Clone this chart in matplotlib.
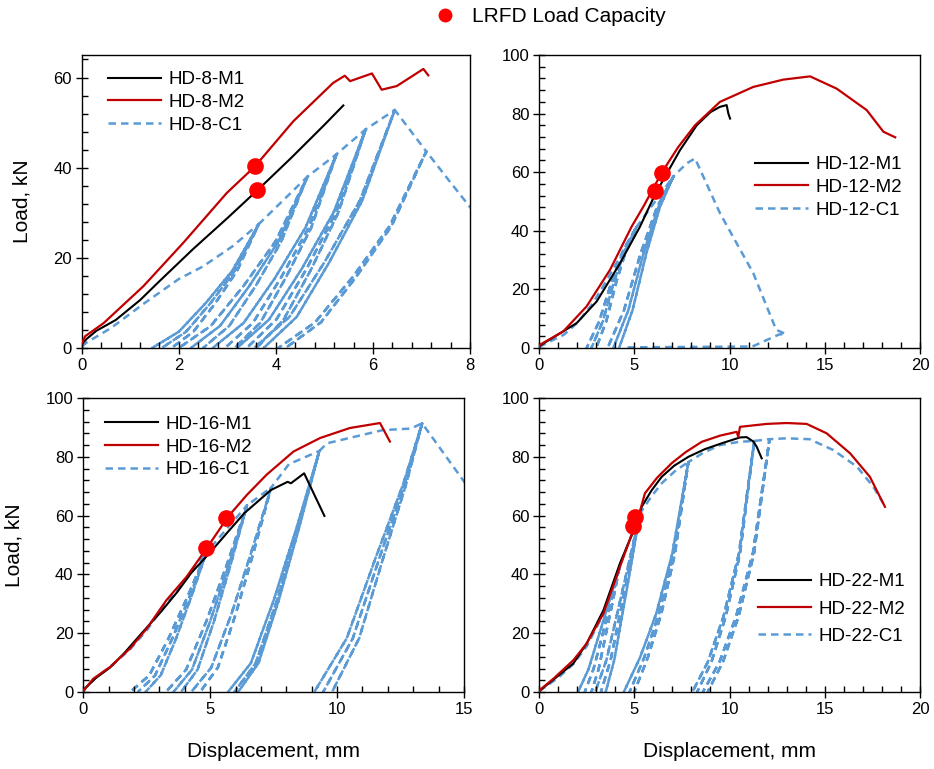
import matplotlib
matplotlib.use("Agg")
import matplotlib.pyplot as plt
from matplotlib.ticker import MultipleLocator
from matplotlib.lines import Line2D

plt.rcParams['font.family'] = ['Liberation Sans', 'DejaVu Sans']

# ---------------- HD-8 ----------------
x8_m1 = [0, 0.1, 0.3, 0.7, 1.2, 1.6, 2.3, 3.0, 3.62, 4.3, 5.0, 5.39]
y8_m1 = [0.8, 2.0, 3.8, 6.2, 10.6, 14.8, 22.0, 28.8, 35.0, 42.0, 49.5, 53.8]
x8_m2 = [0, 0.07, 0.45, 1.27, 2.09, 2.99, 3.57, 4.36, 5.18, 5.42, 5.53, 5.98, 6.18, 6.49, 7.04, 7.14]
y8_m2 = [1.0, 2.6, 5.5, 13.7, 23.3, 34.4, 40.3, 50.3, 58.8, 60.4, 59.2, 60.9, 57.3, 58.1, 61.9, 60.5]
x8_env = [0, 0.1, 0.6, 1.3, 2.0, 2.5, 3.1, 3.65]
y8_env = [0.3, 1.2, 4.4, 10.0, 15.3, 18.1, 22.5, 27.5]
# one branch per cycle: residual point -> peak
loops8 = [
    ([1.45, 2.0, 2.55, 3.1, 3.65], [0, 3.6, 9.9, 17.1, 27.5]),
    ([1.65, 2.15, 2.65, 3.15, 3.65], [0, 3.6, 9.9, 17.1, 27.5]),
    ([1.85, 2.3, 2.75, 3.2, 3.65], [0, 3.6, 9.9, 17.1, 27.5]),
    ([2.0, 2.66, 3.33, 3.99, 4.65], [0, 4.9, 13.7, 23.6, 38.0]),
    ([2.25, 2.85, 3.45, 4.05, 4.65], [0, 4.9, 13.7, 23.6, 38.0]),
    ([2.5, 3.04, 3.58, 4.11, 4.65], [0, 4.9, 13.7, 23.6, 38.0]),
    ([2.7, 3.34, 3.98, 4.61, 5.25], [0, 5.6, 15.5, 26.7, 43.0]),
    ([2.95, 3.53, 4.1, 4.68, 5.25], [0, 5.6, 15.5, 26.7, 43.0]),
    ([3.15, 3.68, 4.2, 4.73, 5.25], [0, 5.6, 15.5, 26.7, 43.0]),
    ([3.2, 3.86, 4.53, 5.19, 5.85], [0, 6.3, 17.5, 30.1, 48.5]),
    ([3.4, 4.01, 4.63, 5.24, 5.85], [0, 6.3, 17.5, 30.1, 48.5]),
    ([3.6, 4.16, 4.73, 5.29, 5.85], [0, 6.3, 17.5, 30.1, 48.5]),
    ([3.55, 4.28, 5.0, 5.73, 6.45], [0, 6.9, 19.0, 32.7, 52.8]),
    ([3.75, 4.43, 5.1, 5.78, 6.45], [0, 6.9, 19.0, 32.7, 52.8]),
    ([4.05, 4.81, 5.58, 6.34, 7.1], [0, 5.7, 15.7, 27.0, 43.6]),
    ([4.2, 4.93, 5.65, 6.38, 7.1], [0, 5.7, 15.7, 27.0, 43.6]),
]
x8_tail = [7.6, 8.3]
y8_tail = [36.7, 27.2]
x8_dot = [3.57, 3.62]
y8_dot = [40.3, 35.0]

# ---------------- HD-12 ----------------
x12_m1 = [0, 0.05, 1.98, 3.03, 4.25, 5.3, 6.1, 7.4, 8.28, 9.0, 9.5, 9.85, 9.94, 10.03]
y12_m1 = [0.5, 0.8, 8.5, 15.9, 28.9, 41.4, 52.5, 67.5, 76.0, 80.5, 82.3, 82.9, 80.0, 78.3]
x12_m2 = [0, 0.05, 1.28, 2.5, 3.73, 4.86, 5.5, 6.44, 7.3, 8.19, 9.5, 11.25, 12.83, 14.23, 15.63, 17.2, 18.08, 18.7]
y12_m2 = [0.5, 1.1, 5.7, 14.2, 26.7, 41.4, 48.5, 59.8, 68.5, 76.0, 84.0, 89.1, 91.6, 92.7, 88.5, 81.2, 73.8, 71.9]
x12_env = [0, 0.5, 1.3, 2.0, 2.8, 3.5, 4.2, 4.78, 5.13]
y12_env = [0.3, 2.0, 4.5, 8.5, 15.0, 22.5, 30.5, 37.5, 41.4]
loops12 = [
    ([2.5, 3.16, 3.82, 4.47, 5.13], [0, 9.1, 22.8, 33.9, 41.4]),
    ([2.75, 3.35, 3.94, 4.54, 5.13], [0, 9.1, 22.8, 33.9, 41.4]),
    ([3.0, 3.53, 4.07, 4.6, 5.13], [0, 9.1, 22.8, 33.9, 41.4]),
    ([3.6, 4.46, 5.33, 6.19, 7.05], [0, 12.9, 32.2, 48.0, 58.5]),
    ([3.9, 4.69, 5.48, 6.26, 7.05], [0, 12.9, 32.2, 48.0, 58.5]),
    ([4.2, 4.91, 5.63, 6.34, 7.05], [0, 12.9, 32.2, 48.0, 58.5]),
]
x12_tail = [7.75, 8.19, 9.5, 11.25, 12.45, 12.95, 12.6, 11.2, 4.5]
y12_tail = [63.0, 64.7, 46.0, 25.5, 6.2, 4.8, 4.6, 0.5, 0.2]
x12_dot = [6.44, 6.09]
y12_dot = [59.8, 53.6]

# ---------------- HD-16 ----------------
x16_m1 = [0, 0.1, 0.5, 1.05, 1.61, 2.3, 3.06, 3.7, 4.24, 5.0, 5.7, 6.34, 7.39, 8.05, 8.18, 8.7, 9.5]
y16_m1 = [0.3, 1.5, 4.8, 8.3, 13.2, 20.0, 27.3, 34.0, 40.4, 47.5, 54.5, 60.8, 68.7, 71.5, 71.0, 74.4, 59.9]
x16_m2 = [0, 0.07, 0.39, 1.05, 1.84, 2.5, 3.28, 4.07, 4.86, 5.71, 6.44, 7.22, 8.28, 9.33, 10.5, 11.69, 12.08]
y16_m2 = [0.5, 1.1, 4.5, 8.5, 14.8, 21.6, 31.3, 39.2, 48.9, 59.7, 67.0, 73.9, 81.8, 86.4, 89.8, 91.5, 85.2]
x16_env = [0, 0.1, 0.5, 1.05, 1.84, 2.5, 3.28, 4.07, 4.85]
y16_env = [0.3, 1.5, 5.0, 8.5, 14.5, 21.0, 30.5, 38.5, 47.5]
loops16 = [
    ([1.85, 2.6, 3.35, 4.1, 4.85], [0, 5.7, 18.1, 32.3, 47.5]),
    ([2.15, 2.83, 3.5, 4.18, 4.85], [0, 5.7, 18.1, 32.3, 47.5]),
    ([2.45, 3.05, 3.65, 4.25, 4.85], [0, 5.7, 18.1, 32.3, 47.5]),
    ([3.25, 4.05, 4.85, 5.65, 6.45], [0, 7.6, 24.1, 43.2, 63.5]),
    ([3.55, 4.28, 5.0, 5.73, 6.45], [0, 7.6, 24.1, 43.2, 63.5]),
    ([3.85, 4.5, 5.15, 5.8, 6.45], [0, 7.6, 24.1, 43.2, 63.5]),
    ([4.25, 5.04, 5.83, 6.61, 7.4], [0, 8.3, 26.4, 47.3, 69.5]),
    ([4.6, 5.3, 6.0, 6.7, 7.4], [0, 8.3, 26.4, 47.3, 69.5]),
    ([7.4, 8.1], [69.5, 77.5]),
    ([5.7, 6.6, 7.5, 8.4, 9.3], [0, 9.8, 31.2, 55.8, 82.0]),
    ([5.95, 6.79, 7.63, 8.46, 9.3], [0, 9.8, 31.2, 55.8, 82.0]),
    ([6.1, 6.9, 7.7, 8.5, 9.3], [0, 9.8, 31.2, 55.8, 82.0]),
    ([9.3, 9.6, 11.8, 12.9], [82.0, 84.6, 89.1, 89.6]),
    ([9.1, 10.38, 11.52, 12.59, 13.35], [0, 18.3, 45.7, 70.4, 91.4]),
    ([9.45, 10.62, 11.67, 12.65, 13.35], [0, 18.3, 45.7, 70.4, 91.4]),
    ([9.8, 10.87, 11.82, 12.71, 13.35], [0, 18.3, 45.7, 70.4, 91.4]),
]
x16_tail = [15.3]
y16_tail = [68.0]
x16_dot = [5.62, 4.83]
y16_dot = [59.3, 48.9]

# ---------------- HD-22 ----------------
x22_m1 = [0, 0.1, 1.0, 1.8, 2.5, 3.38, 4.25, 5.04, 5.39, 5.9, 6.44, 7.1, 7.84, 8.7, 9.59, 10.55, 10.9, 11.25, 11.43, 11.69]
y22_m1 = [0.2, 0.8, 5.5, 9.7, 16.5, 27.8, 43.8, 56.0, 63.0, 68.5, 73.2, 77.0, 80.0, 82.6, 84.6, 86.6, 86.7, 85.2, 83.4, 79.5]
x22_m2 = [0, 0.1, 0.75, 1.8, 2.5, 3.38, 4.25, 4.95, 5.3, 5.56, 6.2, 6.96, 7.7, 8.54, 9.5, 10.38, 10.46, 10.55,
          11.95, 13.0, 14.05, 15.1, 16.33, 17.37, 18.16]
y22_m2 = [0.3, 1.0, 4.5, 10.8, 16.5, 26.7, 42.6, 55.1, 61.5, 67.6, 72.9, 77.8, 81.6, 85.1, 87.2, 88.5, 86.8, 90.2,
          91.2, 91.5, 91.2, 88.0, 81.2, 73.2, 63.0]
x22_env = [0, 0.1, 1.0, 1.8, 2.5, 3.3, 3.8, 4.25]
y22_env = [0.2, 0.7, 4.8, 9.5, 15.5, 25.5, 33.5, 43.2]
loops22 = [
    ([2.05, 2.6, 3.15, 3.7, 4.25], [0, 7.8, 19.4, 31.1, 43.2]),
    ([2.4, 2.86, 3.33, 3.79, 4.25], [0, 7.8, 19.4, 31.1, 43.2]),
    ([2.75, 3.13, 3.5, 3.88, 4.25], [0, 7.8, 19.4, 31.1, 43.2]),
    ([2.95, 3.54, 4.13, 4.71, 5.3], [0, 10.9, 27.4, 43.8, 60.8]),
    ([3.25, 3.76, 4.28, 4.79, 5.3], [0, 10.9, 27.4, 43.8, 60.8]),
    ([3.5, 3.95, 4.4, 4.85, 5.3], [0, 10.9, 27.4, 43.8, 60.8]),
    ([5.3, 5.9, 6.44, 7.2], [60.8, 66.5, 71.0, 75.5]),
    ([4.45, 5.3, 6.15, 6.99, 7.84], [0, 11.7, 26.6, 46.9, 78.2]),
    ([4.75, 5.52, 6.3, 7.07, 7.84], [0, 11.7, 26.6, 46.9, 78.2]),
    ([5.0, 5.71, 6.42, 7.13, 7.84], [0, 11.7, 26.6, 46.9, 78.2]),
    ([7.84, 8.6, 9.5, 10.5], [78.2, 81.3, 84.0, 85.1]),
    ([8.05, 8.86, 9.68, 10.49, 11.3], [0, 10.2, 25.6, 47.0, 85.4]),
    ([8.3, 9.05, 9.8, 10.55, 11.3], [0, 10.2, 25.6, 47.0, 85.4]),
    ([8.6, 9.48, 10.35, 11.23, 12.1], [0, 10.3, 25.8, 47.3, 86.0]),
    ([8.85, 9.66, 10.48, 11.29, 12.1], [0, 10.3, 25.8, 47.3, 86.0]),
]
x22_tail = [13.0, 14.2, 15.45, 16.7, 17.55, 18.07]
y22_tail = [86.3, 86.0, 82.3, 76.6, 69.8, 64.2]
x22_dot = [5.02, 4.95]
y22_dot = [59.6, 56.5]

RED = '#C00000'
BLUE = '#5B9BD5'


def c1_path(env_x, env_y, loops, tail_x, tail_y):
    xs, ys = list(env_x), list(env_y)
    for lx, ly in loops:
        if ly[0] == 0:
            # unload down to the residual point, then reload to the peak
            xs += lx[::-1] + lx
            ys += ly[::-1] + ly
        else:
            # piece of envelope between two load levels
            xs += lx
            ys += ly
    return xs + tail_x, ys + tail_y


def panel(ax, name, m1, m2, c1, dots, xmax, xmaj, xmin_, ymax, leg_xy, spacing):
    cx, cy = c1_path(*c1)
    ax.plot(cx, cy, color=BLUE, lw=1.8, dashes=(3, 2), zorder=1, label=name + '-C1')
    ax.plot(m1[0], m1[1], color='black', lw=1.5, zorder=2, label=name + '-M1')
    ax.plot(m2[0], m2[1], color=RED, lw=1.6, zorder=3, label=name + '-M2')
    ax.plot(dots[0], dots[1], 'o', color='#FF0000', ms=12, mec='none', zorder=4)
    ax.set_xlim(0, xmax)
    ax.set_ylim(0, ymax)
    ax.xaxis.set_major_locator(MultipleLocator(xmaj))
    ax.xaxis.set_minor_locator(MultipleLocator(xmin_))
    ax.yaxis.set_major_locator(MultipleLocator(20))
    ax.yaxis.set_minor_locator(MultipleLocator(4))
    ax.tick_params(which='major', direction='inout', length=8, width=1, labelsize=12, pad=3)
    ax.tick_params(which='minor', direction='in', length=4, width=1)
    for s in ax.spines.values():
        s.set_linewidth(1.0)
    h, l = ax.get_legend_handles_labels()
    order = [1, 2, 0]
    ax.legend([h[i] for i in order], [l[i] for i in order], loc='upper left',
              bbox_to_anchor=leg_xy, borderaxespad=0, borderpad=0, frameon=False,
              fontsize=13.5, handlelength=2.8, handletextpad=0.4, labelspacing=spacing)


fig = plt.figure(figsize=(9.34, 7.69), dpi=100)
ax1 = fig.add_axes([0.0875, 0.5475, 0.4157, 0.381])
ax2 = fig.add_axes([0.5771, 0.5475, 0.4079, 0.381])
ax3 = fig.add_axes([0.0892, 0.1001, 0.4076, 0.3823])
ax4 = fig.add_axes([0.5771, 0.1001, 0.4079, 0.3823])

panel(ax1, 'HD-8', (x8_m1, y8_m1), (x8_m2, y8_m2),
      (x8_env, y8_env, loops8, x8_tail, y8_tail), (x8_dot, y8_dot),
      8, 2, 0.4, 65, (0.068, 0.945), 0.3)
panel(ax2, 'HD-12', (x12_m1, y12_m1), (x12_m2, y12_m2),
      (x12_env, y12_env, loops12, x12_tail, y12_tail), (x12_dot, y12_dot),
      20, 5, 1, 100, (0.567, 0.655), 0.3)
panel(ax3, 'HD-16', (x16_m1, y16_m1), (x16_m2, y16_m2),
      (x16_env, y16_env, loops16, x16_tail, y16_tail), (x16_dot, y16_dot),
      15, 5, 1, 100, (0.057, 0.94), 0.3)
panel(ax4, 'HD-22', (x22_m1, y22_m1), (x22_m2, y22_m2),
      (x22_env, y22_env, loops22, x22_tail, y22_tail), (x22_dot, y22_dot),
      20, 5, 1, 100, (0.575, 0.405), 0.55)

for ax in (ax1, ax3):
    ax.set_ylabel('Load, kN', fontsize=15, labelpad=16)
for ax in (ax3, ax4):
    ax.set_xlabel('Displacement, mm', fontsize=15, labelpad=18)

dot = Line2D([], [], marker='o', color='#FF0000', ls='none', ms=10, mec='none')
fig.legend([dot], ['LRFD Load Capacity'], loc='center', bbox_to_anchor=(0.583, 0.978),
           frameon=False, fontsize=15, handletextpad=0.3, borderpad=0)

fig.savefig('out.png', dpi=100)
